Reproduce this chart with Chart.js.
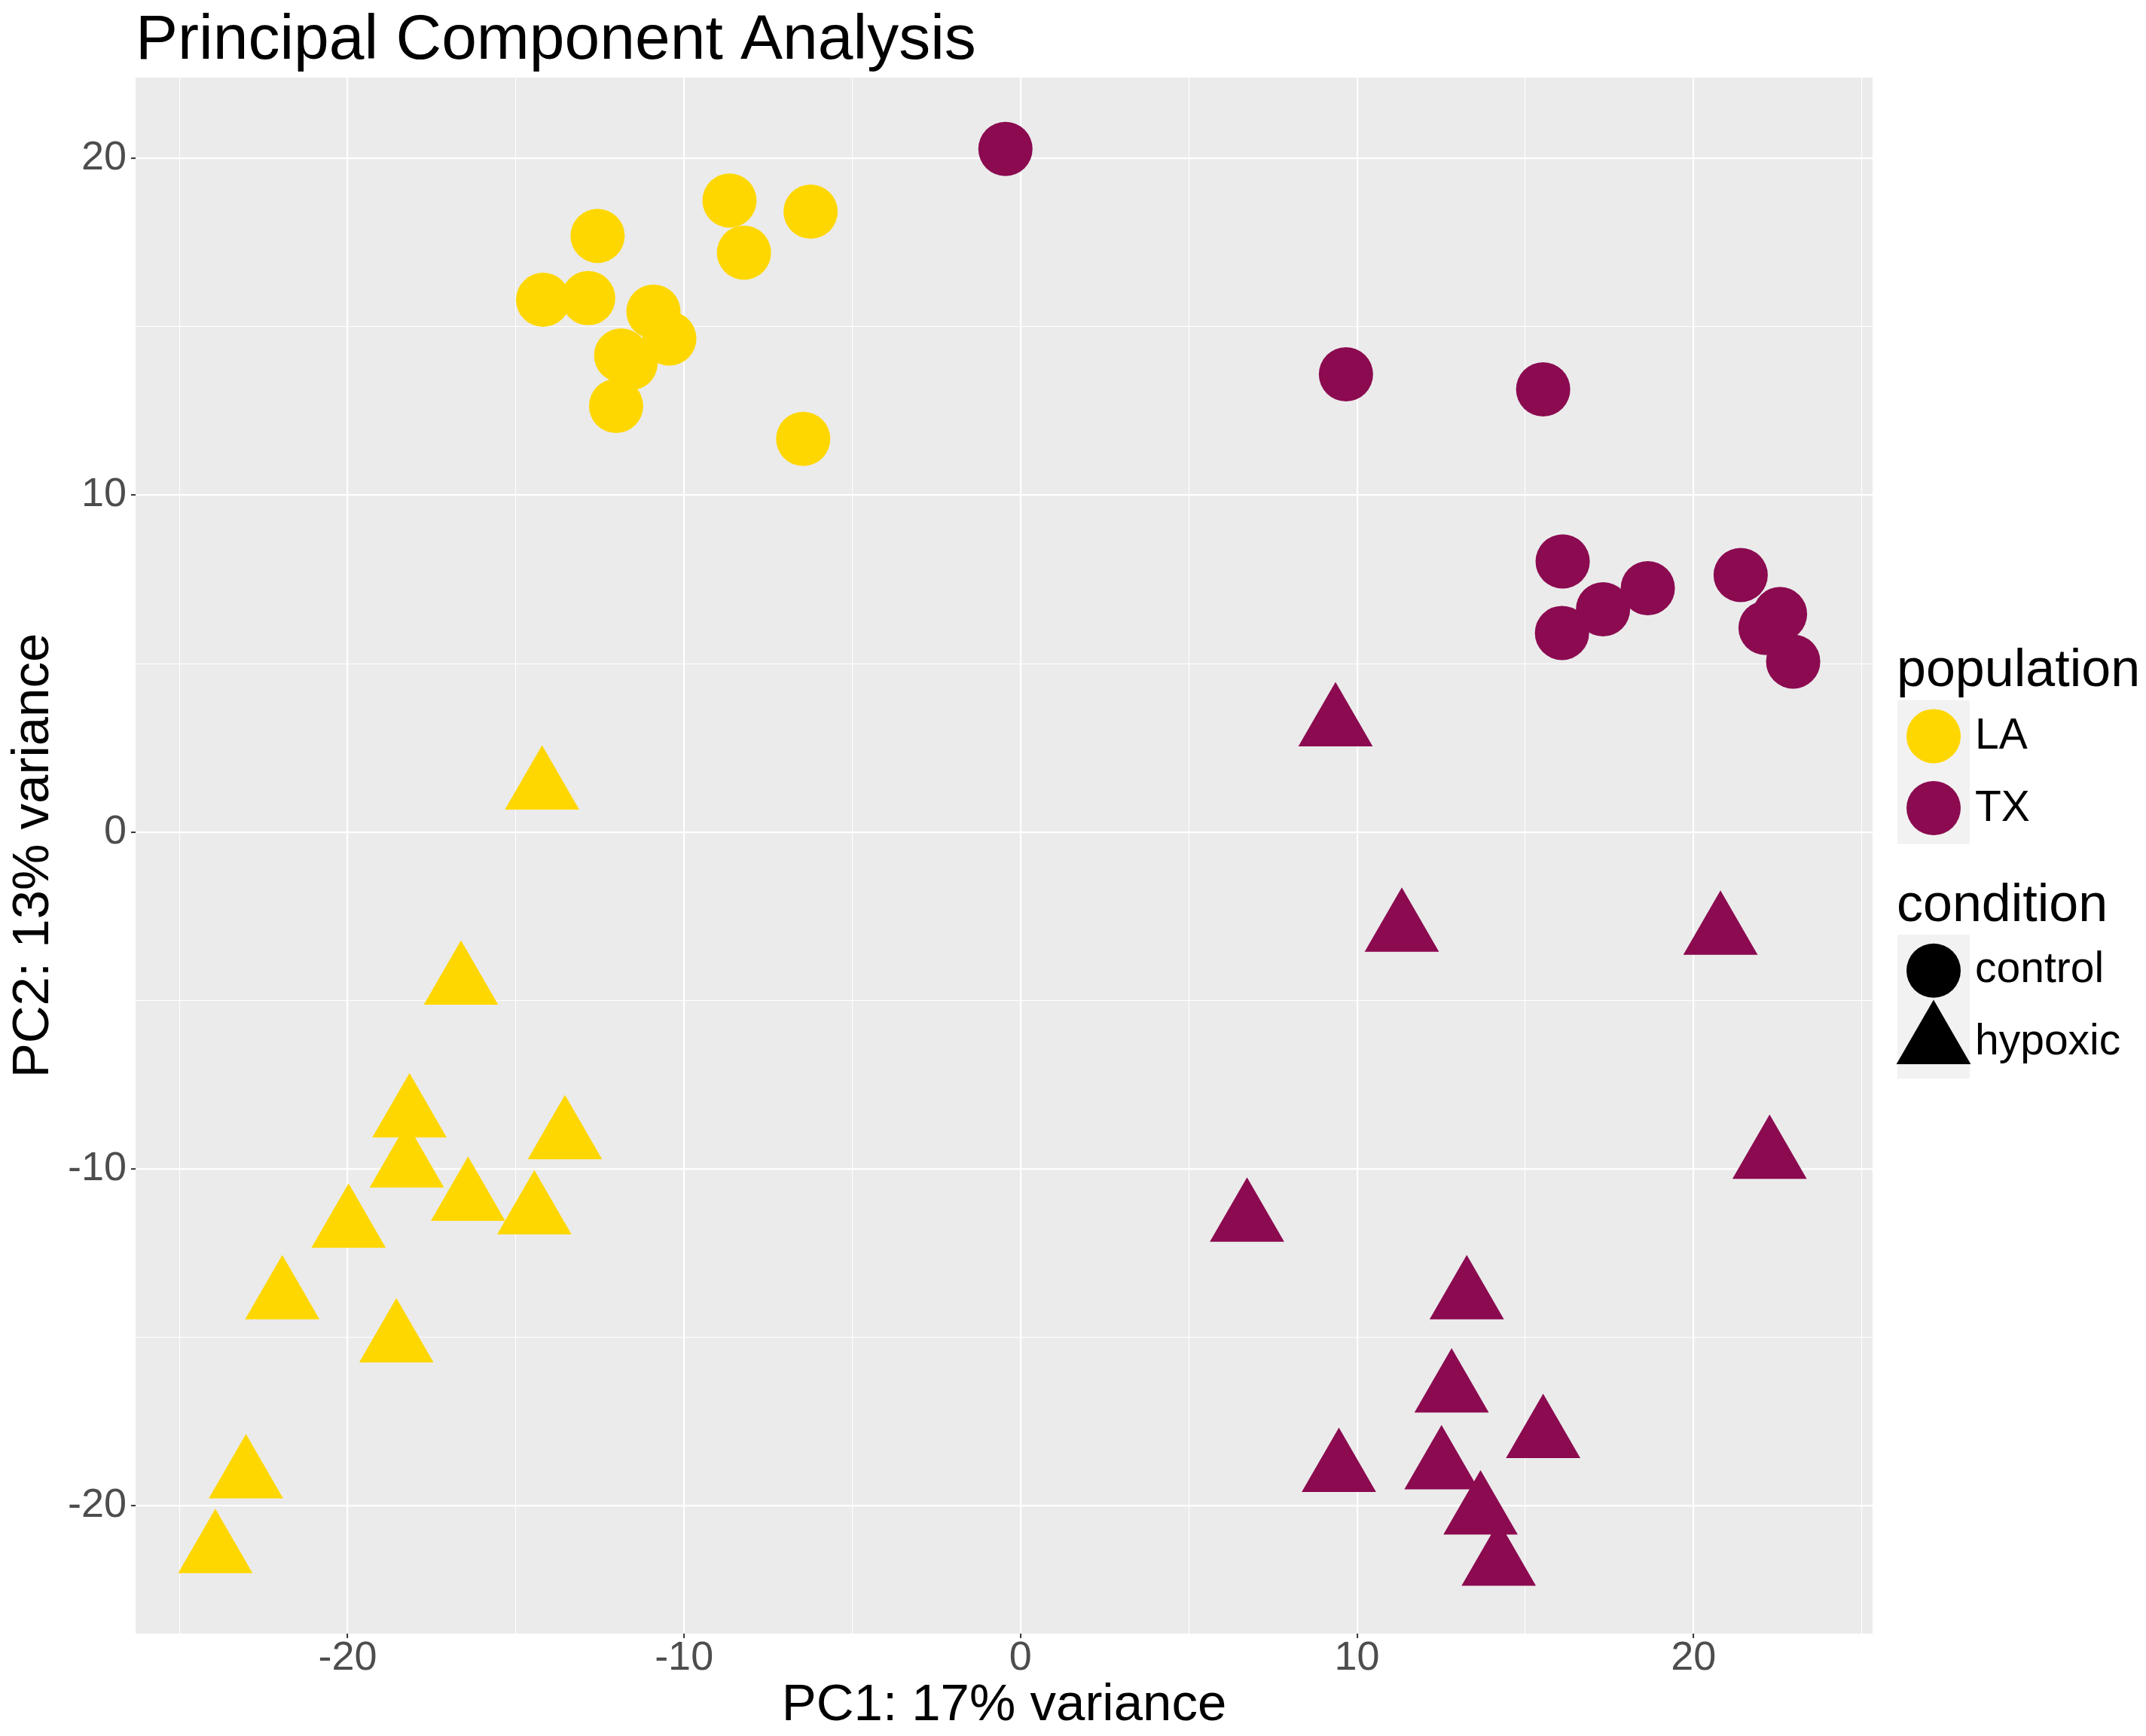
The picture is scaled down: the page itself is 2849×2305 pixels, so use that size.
<!DOCTYPE html>
<html lang="en">

<head>
  <meta charset="UTF-8">
  <title>Principal Component Analysis</title>
  <script src="https://cdn.jsdelivr.net/npm/chart.js"></script>
  <style>
  html, body {
    margin: 0;
    padding: 0;
    background: #ffffff;
  }

  #wrap {
    position: relative;
    width: 2849px;
    height: 2305px;
  }
  </style>
</head>

<body>
  <div id="wrap"><canvas id="myChart"></canvas></div>
  <script>
    // PC scores
    var laControlPC1 = [-14.19, -12.85, -12.57, -8.65, -6.24, -8.22, -10.91, -10.44, -11.87, -11.59, -12.02, -6.46]
    var laControlPC2 = [15.80, 15.85, 17.70, 18.75, 18.42, 17.20, 15.45, 14.65, 14.15, 13.92, 12.65, 11.67]

    var laHypoxicPC1 = [-14.22, -16.63, -18.16, -18.24, -13.54, -16.42, -14.45, -19.97, -21.94, -18.55, -23.02, -23.93]
    var laHypoxicPC2 = [1.30, -4.49, -8.43, -9.92, -9.08, -10.91, -11.31, -11.71, -13.83, -15.11, -19.15, -21.37]

    var txControlPC1 = [-0.45, 9.67, 15.53, 16.11, 17.31, 18.64, 16.09, 21.40, 22.57, 22.14, 22.96]
    var txControlPC2 = [20.28, 13.59, 13.14, 8.03, 6.61, 7.24, 5.91, 7.63, 6.47, 6.06, 5.06]

    var txHypoxicPC1 = [9.36, 11.33, 20.80, 22.26, 6.73, 13.26, 12.81, 15.53, 9.46, 12.51, 14.21, 13.67]
    var txHypoxicPC2 = [3.18, -2.92, -3.01, -9.66, -11.53, -13.83, -16.60, -17.95, -18.96, -18.88, -21.74, -20.22]

    var populations = ["LA", "TX"]
    var conditions = ["control", "hypoxic"]

    var popColors = {
      LA: "#FFD700",
      TX: "#8B0A50"
    }
    var condShapes = {
      control: "circle",
      hypoxic: "triangle"
    }
    var condRadius = {
      control: 36,
      hypoxic: 57
    }

    var FONT = "'Liberation Sans', Arial, sans-serif"

    function pts(xs, ys) {
      return xs.map((x, i) => ({ x: x, y: ys[i] }))
    }

    function makeSet(pop, cond, xs, ys) {
      return {
        label: pop + " " + cond,
        data: pts(xs, ys),
        backgroundColor: popColors[pop],
        borderWidth: 0,
        pointStyle: condShapes[cond],
        pointRadius: condRadius[cond],
        pointHoverRadius: condRadius[cond]
      }
    }

    function isMajor(v) {
      return Math.abs(v % 10) < 1e-9
    }

    // grey panel behind the grid
    var panelBg = {
      id: "panelBg",
      beforeDraw(chart) {
        const a = chart.chartArea
        const ctx = chart.ctx
        ctx.save()
        ctx.fillStyle = "#EBEBEB"
        ctx.fillRect(a.left, a.top, a.right - a.left, a.bottom - a.top)
        ctx.restore()
      }
    }

    function marker(ctx, shape, r, x, y, color) {
      ctx.fillStyle = color
      ctx.beginPath()
      if (shape === "circle") {
        ctx.arc(x, y, r, 0, Math.PI * 2)
      } else {
        let a = 0
        ctx.moveTo(x + Math.sin(a) * r, y - Math.cos(a) * r)
        a += Math.PI * 2 / 3
        ctx.lineTo(x + Math.sin(a) * r, y - Math.cos(a) * r)
        a += Math.PI * 2 / 3
        ctx.lineTo(x + Math.sin(a) * r, y - Math.cos(a) * r)
        ctx.closePath()
      }
      ctx.fill()
    }

    // ggplot style legend: two guides, colour and shape
    var sideLegend = {
      id: "sideLegend",
      afterDraw(chart) {
        const a = chart.chartArea
        const ctx = chart.ctx
        const lx = a.right + 33
        const cy = (a.top + a.bottom) / 2 + 6
        const keyW = 96
        const keyH = 95.6
        const mid = lx + keyW / 2
        ctx.save()

        // population
        ctx.fillStyle = "#000000"
        ctx.font = "70px " + FONT
        ctx.textAlign = "left"
        ctx.textBaseline = "alphabetic"
        ctx.fillText("population", lx - 1, cy - 231)
        let top = cy - 212.4
        ctx.fillStyle = "#F2F2F2"
        ctx.fillRect(lx, top, keyW, keyH * populations.length)
        populations.forEach((p, i) => {
          const y = top + keyH * i + keyH / 2
          marker(ctx, "circle", condRadius.control, mid, y, popColors[p])
          ctx.fillStyle = "#000000"
          ctx.font = "57px " + FONT
          ctx.textBaseline = "middle"
          ctx.fillText(p, lx + 103, y + 1)
        })

        // condition
        ctx.font = "70px " + FONT
        ctx.textBaseline = "alphabetic"
        ctx.fillText("condition", lx - 1, cy + 81.4)
        top = cy + 99
        ctx.fillStyle = "#F2F2F2"
        ctx.fillRect(lx, top, keyW, keyH * conditions.length)
        conditions.forEach((c, i) => {
          const y = top + keyH * i + keyH / 2
          marker(ctx, condShapes[c], condRadius[c], mid, y, "#000000")
          ctx.fillStyle = "#000000"
          ctx.font = "57px " + FONT
          ctx.textBaseline = "middle"
          ctx.fillText(c, lx + 103, y)
        })
        ctx.restore()
      }
    }

    const ctx = document.getElementById("myChart").getContext("2d")
    const chart = new Chart(ctx, {
      type: "scatter",
      data: {
        datasets: [
          makeSet("LA", "control", laControlPC1, laControlPC2),
          makeSet("LA", "hypoxic", laHypoxicPC1, laHypoxicPC2),
          makeSet("TX", "control", txControlPC1, txControlPC2),
          makeSet("TX", "hypoxic", txHypoxicPC1, txHypoxicPC2)
        ]
      },
      options: {
        responsive: true,
        maintainAspectRatio: false,
        devicePixelRatio: 1,
        animation: false,
        layout: {
          padding: { left: 0, right: 363, top: 0, bottom: 0 }
        },
        plugins: {
          legend: { display: false },
          tooltip: { enabled: false },
          title: {
            display: true,
            text: "Principal Component Analysis",
            align: "start",
            fullSize: false,
            color: "#000000",
            font: { family: FONT, size: 84, weight: "normal", lineHeight: 1.14 },
            padding: { top: 7, bottom: 0.2 }
          }
        },
        scales: {
          x: {
            type: "linear",
            min: -26.3,
            max: 25.32,
            afterFit(s) { s.height = 136 },
            border: { display: false },
            grid: {
              color: "#FFFFFF",
              lineWidth: c => isMajor(c.tick.value) ? 2.2 : 1.1,
              tickColor: c => isMajor(c.tick.value) ? "#333333" : "rgba(0,0,0,0)",
              tickWidth: 2,
              tickLength: 6
            },
            ticks: {
              stepSize: 5,
              includeBounds: false,
              autoSkip: false,
              maxRotation: 0,
              padding: 0,
              color: "#4D4D4D",
              font: { family: FONT, size: 54, lineHeight: 1 },
              callback: v => isMajor(v) ? String(v) : ""
            },
            title: {
              display: true,
              text: "PC1: 17% variance",
              color: "#000000",
              font: { family: FONT, size: 69, lineHeight: 1.15 },
              padding: 0
            }
          },
          y: {
            type: "linear",
            min: -23.8,
            max: 22.4,
            afterFit(s) { s.width = 180 },
            border: { display: false },
            grid: {
              color: "#FFFFFF",
              lineWidth: c => isMajor(c.tick.value) ? 2.2 : 1.1,
              tickColor: c => isMajor(c.tick.value) ? "#333333" : "rgba(0,0,0,0)",
              tickWidth: 2,
              tickLength: 6
            },
            ticks: {
              stepSize: 5,
              includeBounds: false,
              autoSkip: false,
              padding: 6,
              color: "#4D4D4D",
              font: { family: FONT, size: 54, lineHeight: 1 },
              callback: v => isMajor(v) ? String(v) : ""
            },
            title: {
              display: true,
              text: "PC2: 13% variance",
              color: "#000000",
              font: { family: FONT, size: 69, lineHeight: 1.2 },
              padding: { top: 4, bottom: 0 }
            }
          }
        }
      },
      plugins: [panelBg, sideLegend]
    });
  </script>
</body>

</html>
